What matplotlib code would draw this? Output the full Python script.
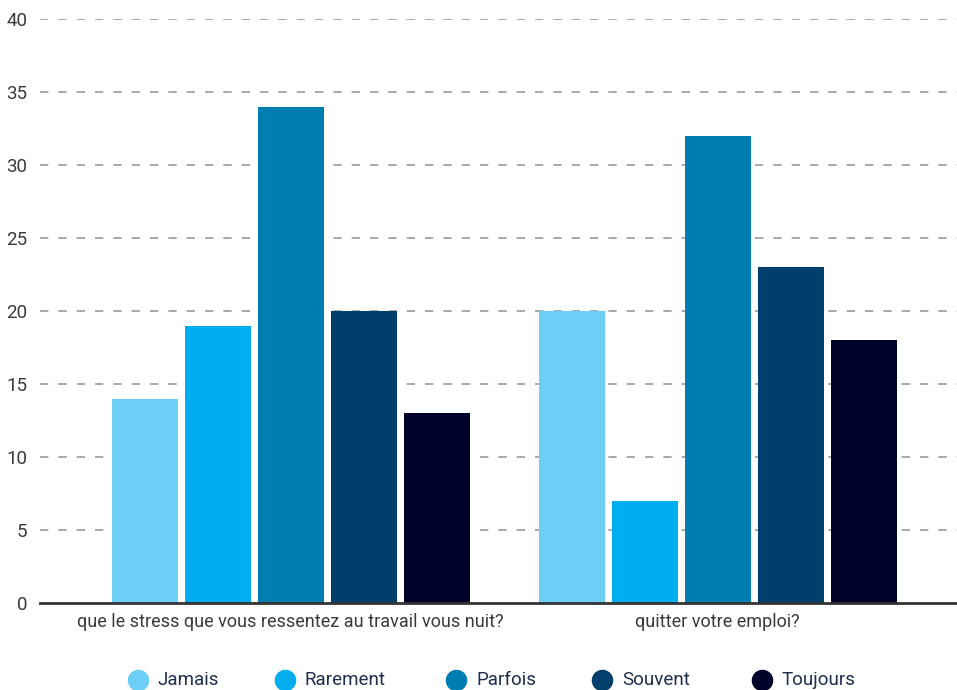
import matplotlib
matplotlib.use("Agg")
import matplotlib.pyplot as plt
from matplotlib.lines import Line2D
import numpy as np

plt.rcParams['font.family'] = ['Roboto', 'DejaVu Sans']

questions = ["que le stress que vous ressentez au travail vous nuit?",
             "quitter votre emploi?"]
series = ["Jamais", "Rarement", "Parfois", "Souvent", "Toujours"]
jamais = [14, 20]
rarement = [19, 7]
parfois = [34, 32]
souvent = [20, 23]
toujours = [13, 18]
values = [jamais, rarement, parfois, souvent, toujours]
colors = ["#6dcff6", "#00aeef", "#007db1", "#003f6b", "#000229"]
yticks = [0, 5, 10, 15, 20, 25, 30, 35, 40]

W, H = 957, 690
fig = plt.figure(figsize=(W / 100, H / 100), dpi=100)
ax = fig.add_axes([40 / W, 87 / H, 917 / W, 584 / H])

x = np.arange(len(questions))
step = 0.171
width = 0.155
for i, (name, vals, c) in enumerate(zip(series, values, colors)):
    ax.bar(x + (i - 2) * step + 0.002, vals, width=width, color=c, label=name, zorder=3)

ax.set_xlim(-0.585, 1.562)
ax.set_ylim(0, 40)
ax.set_yticks(yticks)
ax.set_yticklabels([str(t) for t in yticks], fontsize=13.5, color="#3a3a3a")
ax.set_xticks(x)
ax.set_xticklabels(questions, fontsize=13, color="#3a3a3a")
ax.tick_params(axis='both', length=0)
ax.tick_params(axis='y', pad=9)
ax.tick_params(axis='x', pad=7)

for t in yticks[1:]:
    ax.axhline(t, color="#999999", lw=1.2, ls=(0, (5, 6)), zorder=1)

for s in ["top", "right", "left"]:
    ax.spines[s].set_visible(False)
ax.spines["bottom"].set_color("#333333")
ax.spines["bottom"].set_linewidth(2)
ax.spines["bottom"].set_zorder(4)

# Legend row along the bottom edge
marker_x = [138, 285, 456, 602, 762]
legend_y = 1 - 680 / H
for mx, name, c in zip(marker_x, series, colors):
    fig.add_artist(Line2D([mx / W], [legend_y], marker='o', ls='', markersize=14.5,
                          markerfacecolor=c, markeredgecolor=c,
                          transform=fig.transFigure))
    fig.text((mx + 20) / W, legend_y, name, fontsize=13.5, color="#1f2d4e",
             va='center', ha='left')

fig.savefig("out.png", dpi=100)
